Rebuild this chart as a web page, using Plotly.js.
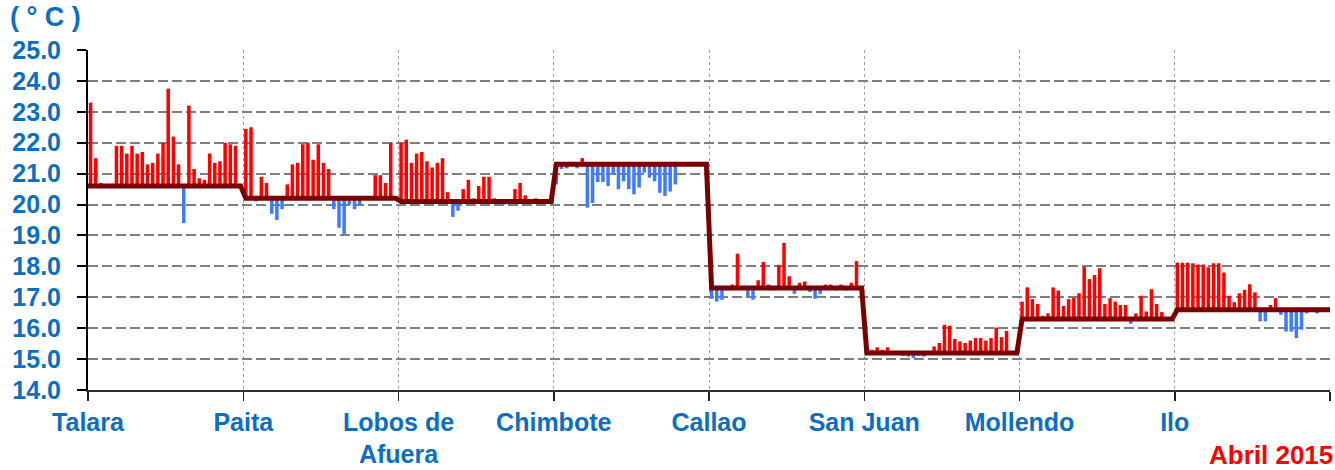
<!DOCTYPE html>
<html>
<head>
<meta charset="utf-8">
<script src="https://cdn.plot.ly/plotly-3.0.1.min.js"></script>
<style>
  html, body { margin: 0; padding: 0; background: #ffffff; }
  #chart { width: 1335px; height: 470px; }
</style>
</head>
<body>
<div id="chart"></div>
<script>
// Station names (x tick labels)
const stations = ["Talara", "Paita", "Lobos de<br>Afuera", "Chimbote", "Callao", "San Juan", "Mollendo", "Ilo"];
// Climatological April normal per station (°C)
const normals = [20.6, 20.2, 20.1, 21.3, 17.3, 15.2, 16.3, 16.6];
// Daily SST, April 2015 (°C), 30 days per station; null = no bar
const talara   = [23.3, 21.5, 20.7, null, null, 21.9, 21.9, 21.65, 21.9, 21.65, 21.7, 21.3, 21.35, 21.65, 22.0, 23.75, 22.2, 21.3, 19.4, 23.2, 21.15, 20.85, 20.8, 21.65, 21.35, 21.4, 22.0, 21.95, 21.9, null];
const paita    = [22.45, 22.5, 20.1, 20.9, 20.7, 19.7, 19.5, 19.85, 20.65, 21.3, 21.35, 21.95, 22.0, 21.45, 21.95, 21.35, 21.15, 19.85, 19.25, 19.05, 20.0, 19.85, 20.0, 20.25, 20.25, 20.95, 20.95, 20.7, 22.0, null];
const lobos    = [22.0, 22.1, 21.35, 21.65, 21.7, 21.4, 21.2, 21.35, 21.5, 20.4, 19.6, 19.8, 20.5, 20.8, 20.2, 20.6, 20.9, 20.9, 20.2, 20.0, 20.0, 20.15, 20.5, 20.7, 20.3, 20.15, 20.2, null, null, null];
const chimbote = [20.65, 21.15, 21.17, 21.38, 21.17, 21.5, 19.9, 20.05, 20.73, 20.73, 20.6, 21.0, 20.5, 20.75, 20.5, 20.33, 20.55, 21.03, 20.87, 20.75, 20.38, 20.28, 20.42, 20.65, null, null, null, null, null, null];
const callao   = [16.95, 16.86, 16.92, 17.22, 17.41, 18.41, 17.3, 17.03, 16.92, 17.55, 18.14, 17.41, 17.22, 18.05, 18.76, 17.68, 17.11, 17.47, 17.51, 17.17, 16.95, 17.11, 17.41, 17.41, 17.22, 17.41, 17.22, 17.47, 18.17, null];
const sanJuan  = [15.3, 15.3, 15.38, 15.3, 15.38, 15.24, 15.2, 15.1, 15.08, 15.03, 15.1, 15.08, 15.14, 15.41, 15.52, 16.11, 16.08, 15.65, 15.57, 15.52, 15.6, 15.68, 15.68, 15.6, 15.68, 16.02, 15.71, 15.91, null, null];
const mollendo = [16.86, 17.32, 16.94, 16.78, 16.4, 16.48, 17.32, 17.22, 16.72, 16.94, 16.99, 17.13, 17.99, 17.59, 17.72, 17.94, 16.78, 16.97, 16.86, 16.75, 16.75, 16.14, 16.48, 17.05, 16.54, 17.26, 16.78, 16.52, null, null];
const ilo      = [18.12, 18.12, 18.12, 18.1, 18.06, 18.06, 17.97, 18.1, 18.1, 17.8, 17.05, 16.84, 17.13, 17.24, 17.42, 17.16, 16.22, 16.22, 16.75, 16.97, 16.43, 15.89, 15.89, 15.68, 15.95, 16.48, 16.54, 16.48, null, null];
const yTicks = [14, 15, 16, 17, 18, 19, 20, 21, 22, 23, 24, 25];
const unitLabel = "( ° C )";
const periodLabel = "Abril 2015";

const daily = [talara, paita, lobos, chimbote, callao, sanJuan, mollendo, ilo];
const nDays = 30;

// Build bar traces (anomaly bars from the normal) and the normal step line
const upX = [], upY = [], upB = [];
const dnX = [], dnY = [], dnB = [];
const lineX = [], lineY = [];
daily.forEach((series, s) => {
  series.forEach((v, d) => {
    const x = s * nDays + d + 0.5;
    lineX.push(x); lineY.push(normals[s]);
    if (v === null) return;
    const a = v - normals[s];
    if (a >= 0) { upX.push(x); upY.push(a); upB.push(normals[s]); }
    else { dnX.push(x); dnY.push(a); dnB.push(normals[s]); }
  });
});
// extend the normal line to the plot edges
lineX.unshift(0); lineY.unshift(normals[0]);
lineX.push(stations.length * nDays); lineY.push(normals[normals.length - 1]);

const blueText = "#0a6fc2";
const fontFam = "Liberation Sans, Arial, sans-serif";

const traces = [
  { type: "bar", x: upX, y: upY, base: upB, width: 0.68,
    marker: { color: "#ff0000", line: { width: 0 } }, hoverinfo: "skip", showlegend: false },
  { type: "bar", x: dnX, y: dnY, base: dnB, width: 0.68,
    marker: { color: "#3f7bff", line: { width: 0 } }, hoverinfo: "skip", showlegend: false },
  { type: "scatter", mode: "lines", x: lineX, y: lineY,
    line: { color: "#7a0000", width: 5 }, hoverinfo: "skip", showlegend: false }
];

const tickvals = [];
const ticktext = [];
for (let s = 0; s <= stations.length; s++) {
  tickvals.push(s * nDays);
  ticktext.push(s < stations.length ? stations[s] : "");
}

const layout = {
  width: 1335, height: 470,
  margin: { l: 88, r: 5, t: 50, b: 80 },
  paper_bgcolor: "#ffffff", plot_bgcolor: "#ffffff",
  barmode: "overlay",
  xaxis: {
    range: [0, stations.length * nDays],
    tickmode: "array", tickvals: tickvals, ticktext: ticktext,
    showgrid: true, gridcolor: "#a0a0a0", griddash: "dot", gridwidth: 1,
    showline: true, linecolor: "#303030", linewidth: 1.5,
    ticks: "outside", ticklen: 9, tickwidth: 1.5, tickcolor: "#202020",
    tickfont: { family: fontFam, size: 25, color: blueText, weight: "bold" },
    zeroline: false, fixedrange: true
  },
  yaxis: {
    range: [14, 25], tickmode: "array", tickvals: yTicks, tickformat: ".1f",
    showgrid: true, gridcolor: "#7f7f7f", griddash: "10px,4px", gridwidth: 2,
    showline: true, linecolor: "#000000", linewidth: 2,
    ticks: "outside", ticklen: 9, tickwidth: 2, tickcolor: "#000000",
    ticklabelstandoff: 11,
    tickfont: { family: fontFam, size: 25, color: blueText, weight: "bold" },
    zeroline: false, fixedrange: true
  },
  annotations: [
    { text: unitLabel, xref: "paper", yref: "paper",
      x: (8 - 88) / 1242, y: (390 - 17) / 340, xanchor: "left", yanchor: "middle",
      showarrow: false, font: { family: fontFam, size: 27, color: blueText, weight: "bold" } },
    { text: periodLabel, xref: "paper", yref: "paper",
      x: (1335 - 88) / 1242, y: (390 - 455) / 340, xanchor: "right", yanchor: "middle",
      showarrow: false, font: { family: fontFam, size: 26, color: "#ff0000", weight: "bold" } }
  ]
};

Plotly.newPlot("chart", traces, layout, { staticPlot: true, displayModeBar: false });
</script>
</body>
</html>
